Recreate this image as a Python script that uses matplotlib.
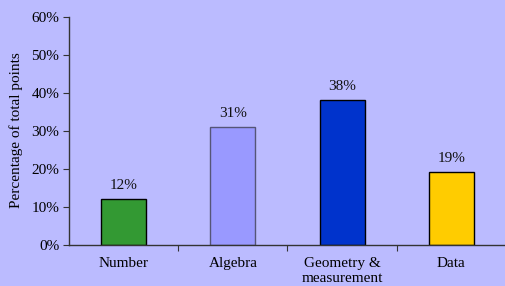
import numpy as np
import matplotlib.pyplot as plt

categories = ['Number', 'Algebra', 'Geometry &\nmeasurement', 'Data']
values = [12, 31, 38, 19]
bar_colors = ['#339933', '#9999FF', '#0033CC', '#FFCC00']
edge_colors = ['black', '#555577', 'black', 'black']
yticks = [0, 10, 20, 30, 40, 50, 60]

bg = '#BBBBFF'
fs = 11
plt.rcParams['font.family'] = ['Liberation Serif', 'DejaVu Serif']

fig = plt.figure(figsize=(5.06, 2.86), dpi=100, facecolor=bg)
ax = fig.add_axes([69 / 506, 1 - 244.5 / 286, 437 / 506, 228 / 286])
ax.set_facecolor(bg)

x = np.arange(len(categories)) + 0.5
ax.bar(x, values, width=0.41, color=bar_colors, edgecolor=edge_colors, linewidth=1)
for xi, v in zip(x, values):
    ax.text(xi, v + 1.8, f'{v}%', ha='center', va='bottom', fontsize=fs, color='#111111')

ax.set_xlim(0, len(categories))
ax.set_ylim(0, 60)
ax.set_yticks(yticks)
ax.set_yticklabels([f'{t}%' for t in yticks], fontsize=fs)
ax.set_xticks(np.arange(1, len(categories)))
ax.set_xticklabels([])
ax.set_xticks(x, minor=True)
ax.set_xticklabels(categories, minor=True, fontsize=fs, linespacing=1.2)
ax.tick_params(axis='x', which='minor', length=0, pad=9)
ax.tick_params(axis='x', which='major', length=4, direction='out', color='#333333')
ax.tick_params(axis='y', length=4, direction='out', color='#333333', pad=3)

for s in ['top', 'right']:
    ax.spines[s].set_visible(False)
for s in ['left', 'bottom']:
    ax.spines[s].set_color('#333333')
    ax.spines[s].set_linewidth(1)

ax.set_ylabel('Percentage of total points', fontsize=fs, labelpad=6)

fig.savefig('out.png', dpi=100, facecolor=bg)
